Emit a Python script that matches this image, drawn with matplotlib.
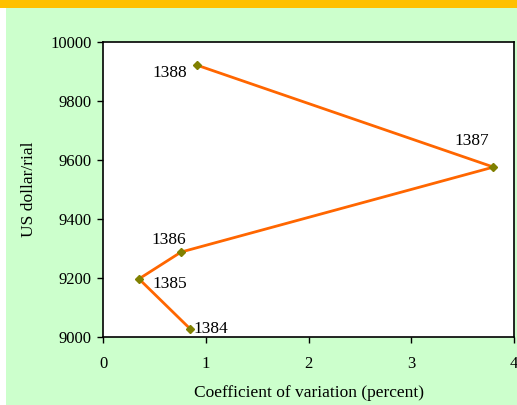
import matplotlib
matplotlib.use("Agg")
from matplotlib import pyplot as plt
from matplotlib.patches import Rectangle

# data
years = ["1384", "1385", "1386", "1387", "1388"]
cv = [0.85, 0.35, 0.76, 3.80, 0.91]
rate = [9027, 9197, 9288, 9576, 9922]

plt.rcParams["font.family"] = ["Liberation Serif", "DejaVu Serif"]
plt.rcParams["font.size"] = 12

W, H = 517, 405
fig = plt.figure(figsize=(W / 100, H / 100), dpi=100, facecolor="white")
# green panel and orange band at top
fig.patches.append(Rectangle((6 / W, 0), 1 - 6 / W, 1 - 8 / H, transform=fig.transFigure,
                             facecolor="#CCFFCC", edgecolor="none", zorder=-2))
fig.patches.append(Rectangle((0, 1 - 8 / H), 1, 8 / H, transform=fig.transFigure,
                             facecolor="#FFC000", edgecolor="none", zorder=-2))

ax = fig.add_axes([103 / W, 1 - 337 / H, (514 - 103) / W, (337 - 42) / H])
ax.set_facecolor("white")
ax.plot(cv, rate, color="#FF6600", lw=2, marker="D", ms=4.5,
        mfc="#808000", mec="#808000", zorder=3)

# label offsets in points
offsets = {"1384": (2, 0),
           "1385": (10, -3.5),
           "1386": (-21, 8.5),
           "1387": (-28, 18.5),
           "1388": (-31.5, -6)}
for y, xv, yv in zip(years, cv, rate):
    dx, dy = offsets[y]
    ax.annotate(y, (xv, yv), xytext=(dx, dy), textcoords="offset points",
                ha="left", va="center", fontsize=12.5)

ax.set_xlim(0, 4)
ax.set_ylim(9000, 10000)
ax.set_xticks([0, 1, 2, 3, 4])
ax.set_yticks([9000, 9200, 9400, 9600, 9800, 10000])
ax.tick_params(direction="out", length=4, width=1, color="black", pad=4)
ax.tick_params(axis="x", pad=10)
for s in ax.spines.values():
    s.set_linewidth(1.2)
    s.set_color("black")

ax.set_xlabel("Coefficient of variation (percent)", fontsize=12.5, labelpad=9)
ax.set_ylabel("US dollar/rial", fontsize=12.5, labelpad=10)

fig.savefig("out.png", dpi=100, facecolor=fig.get_facecolor())
